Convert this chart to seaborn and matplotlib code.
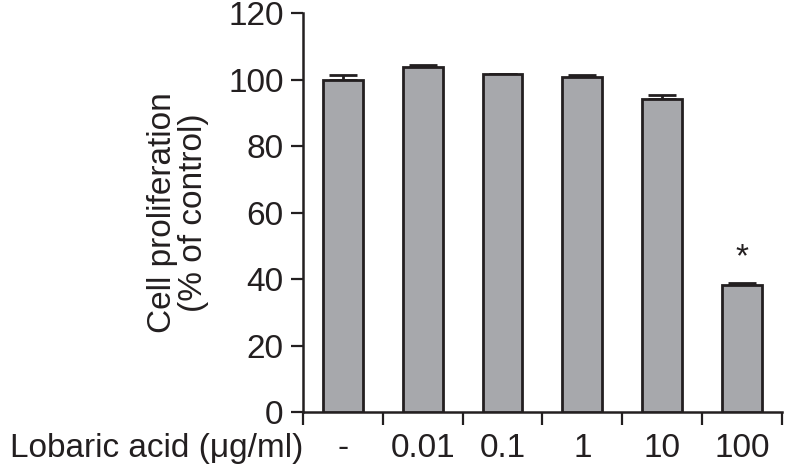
import matplotlib
matplotlib.use("Agg")
import matplotlib.pyplot as plt
import matplotlib.transforms as mtransforms
import seaborn as sns
import pandas as pd
import numpy as np

categories = ["-", "0.01", "0.1", "1", "10", "100"]
values = [100.0, 103.9, 101.7, 100.8, 94.1, 38.3]
errors = [1.5, 0.6, 0.15, 0.7, 1.3, 0.6]
significance = ["", "", "", "", "", "*"]

sns.set_theme(style="ticks")
plt.rcParams['font.family'] = ['Liberation Sans', 'DejaVu Sans']

df = pd.DataFrame({"dose": categories, "value": values})

fig = plt.figure(figsize=(7.85, 4.70), dpi=100)
ax = fig.add_axes([0.386, 0.123, 0.610, 0.849])

edge = "#231f20"
FS = 24
XPAD = 15
sns.barplot(data=df, x="dose", y="value", order=categories, color="#a7a8ac",
            saturation=1, width=0.5, edgecolor=edge, linewidth=2.0,
            errorbar=None, ax=ax, zorder=3)

pos = np.arange(len(categories))
ax.errorbar(pos, values, yerr=[np.zeros(len(errors)), errors], fmt="none",
            ecolor=edge, elinewidth=2.0, capsize=10, capthick=2.0, zorder=2)

for p, v, e, s in zip(pos, values, errors, significance):
    if s:
        ax.text(p, v + e + 3.0, s, ha="center", va="bottom", fontsize=FS, color=edge)

ax.set_xlim(-0.5, len(categories) - 0.5)
ax.set_ylim(0, 120)
ax.set_yticks(range(0, 121, 20))
ax.tick_params(axis="y", length=9, width=1.6, labelsize=FS, colors=edge, pad=5)

# boundary ticks (major, no labels), labels at bar centers (minor, no tick)
ax.set_xticks(np.arange(-0.5, len(categories), 1.0))
ax.set_xticklabels([])
ax.set_xticks(pos, minor=True)
ax.set_xticklabels(categories, minor=True)
ax.tick_params(axis="x", which="major", length=9, width=1.6, direction="out", colors=edge)
ax.tick_params(axis="x", which="minor", length=0, labelsize=FS, pad=XPAD, colors=edge)
ax.set_xlabel("")

trans = mtransforms.blended_transform_factory(ax.transData, ax.transAxes)
ax.text(-0.5, -XPAD * 1.389 / 399, "Lobaric acid (μg/ml)", transform=trans,
        ha="right", va="top", fontsize=FS, color=edge)

ax.set_ylabel("Cell proliferation\n(% of control)", fontsize=FS, color=edge,
              labelpad=14, linespacing=1.0)

for side in ["top", "right"]:
    ax.spines[side].set_visible(False)
for side in ["left", "bottom"]:
    ax.spines[side].set_linewidth(1.8)
    ax.spines[side].set_color(edge)

fig.savefig("out.png", dpi=100)
